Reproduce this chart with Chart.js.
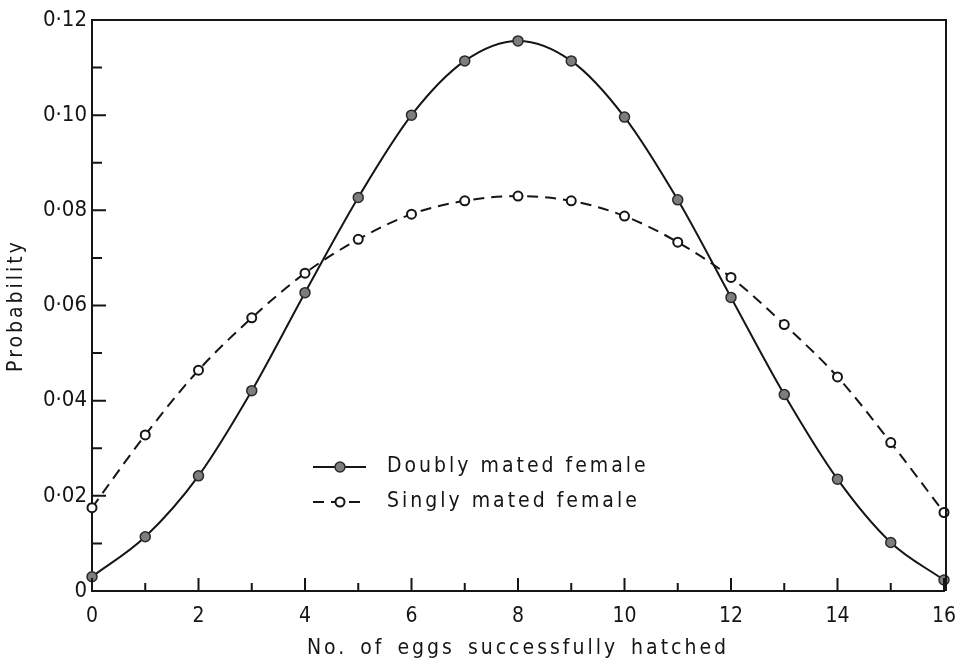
<!DOCTYPE html>
<html>
<head>
<meta charset="utf-8">
<script src="https://cdn.jsdelivr.net/npm/chart.js@4.4.1/dist/chart.umd.min.js"></script>
<style>
  html, body { margin: 0; background: #fff; }
  canvas { display: block; }
</style>
</head>
<body>
<canvas id="eggChart" width="956" height="664"></canvas>
<script>
// data
const eggs = [0, 1, 2, 3, 4, 5, 6, 7, 8, 9, 10, 11, 12, 13, 14, 15, 16];
const doublyMated = [0.0030, 0.0114, 0.0242, 0.0421, 0.0627, 0.0827, 0.1000, 0.1114, 0.1156,
                     0.1114, 0.0996, 0.0822, 0.0617, 0.0413, 0.0235, 0.0102, 0.0023];
const singlyMated = [0.0175, 0.0328, 0.0464, 0.0574, 0.0668, 0.0739, 0.0792, 0.0820, 0.0830,
                     0.0820, 0.0788, 0.0733, 0.0659, 0.0560, 0.0450, 0.0312, 0.0165];
const xTicks = [0, 2, 4, 6, 8, 10, 12, 14, 16];
const xMinorTicks = [1, 3, 5, 7, 9, 11, 13, 15];
const yTicks = [0, 0.02, 0.04, 0.06, 0.08, 0.10, 0.12];
const yMinorTicks = [0.01, 0.03, 0.05, 0.07, 0.09, 0.11];
const seriesLabels = ["Doubly mated female", "Singly mated female"];

const FONT = "'DejaVu Sans Condensed', 'DejaVu Sans', sans-serif";
const INK = "#151515";

const toPoints = (ys) => ys.map((y, i) => ({ x: eggs[i], y: y }));

// spaced-out lettering for the axis titles, like the typeset original
const spacedTitles = {
    id: "spacedTitles",
    beforeDraw(chart) {
        Object.values(chart.scales).forEach((scale) => {
            if (scale._spaced) return;
            const orig = scale.drawTitle.bind(scale);
            scale.drawTitle = function () {
                const ctx = this.ctx;
                ctx.save();
                ctx.letterSpacing = "3px";
                ctx.wordSpacing = "4px";
                orig();
                ctx.restore();
            };
            scale._spaced = true;
        });
    }
};

// inward tick marks + closed frame + legend inside the plot
const frameAndLegend = {
    id: "frameAndLegend",
    afterDraw(chart) {
        const ctx = chart.ctx;
        const { left, right, top, bottom } = chart.chartArea;
        const xs = chart.scales.x, ys = chart.scales.y;
        ctx.save();
        ctx.strokeStyle = INK;
        ctx.lineWidth = 2;
        ctx.beginPath();
        ctx.moveTo(left, top); ctx.lineTo(right + 2, top); ctx.lineTo(right + 2, bottom);
        ctx.stroke();

        ctx.beginPath();
        xTicks.forEach((v) => { const px = xs.getPixelForValue(v); ctx.moveTo(px, bottom); ctx.lineTo(px, bottom - 13); });
        xMinorTicks.forEach((v) => { const px = xs.getPixelForValue(v); ctx.moveTo(px, bottom); ctx.lineTo(px, bottom - 8); });
        yTicks.forEach((v) => { const py = ys.getPixelForValue(v); ctx.moveTo(left, py); ctx.lineTo(left + 14, py); });
        yMinorTicks.forEach((v) => { const py = ys.getPixelForValue(v); ctx.moveTo(left, py); ctx.lineTo(left + 10, py); });
        ctx.stroke();

        // legend
        const rows = [467, 502];
        chart.data.datasets.forEach((ds, i) => {
            const y = rows[i];
            ctx.strokeStyle = ds.borderColor;
            ctx.lineWidth = ds.borderWidth;
            ctx.setLineDash(ds.borderDash || []);
            ctx.beginPath();
            ctx.moveTo(313, y); ctx.lineTo(366, y);
            ctx.stroke();
            ctx.setLineDash([]);
            ctx.beginPath();
            ctx.arc(340, y, ds.pointRadius, 0, Math.PI * 2);
            ctx.fillStyle = ds.pointBackgroundColor;
            ctx.fill();
            ctx.lineWidth = ds.pointBorderWidth;
            ctx.strokeStyle = ds.pointBorderColor;
            ctx.stroke();

            ctx.fillStyle = INK;
            ctx.font = "21px " + FONT;
            ctx.letterSpacing = "3px";
            ctx.textBaseline = "middle";
            ctx.textAlign = "left";
            ctx.fillText(ds.label, 387, y);
            ctx.letterSpacing = "0px";
        });
        ctx.restore();
    }
};

new Chart(document.getElementById("eggChart").getContext("2d"), {
    type: "line",
    data: {
        datasets: [{
            label: seriesLabels[0],
            data: toPoints(doublyMated),
            borderColor: INK,
            borderWidth: 2,
            cubicInterpolationMode: "monotone",
            pointRadius: 5,
            pointBackgroundColor: "#7d7d7d",
            pointBorderColor: "#2a2a2a",
            pointBorderWidth: 1.5,
            clip: false,
        }, {
            label: seriesLabels[1],
            data: toPoints(singlyMated),
            borderColor: INK,
            borderWidth: 2,
            borderDash: [11, 7],
            cubicInterpolationMode: "monotone",
            pointRadius: 4.5,
            pointBackgroundColor: "#ffffff",
            pointBorderColor: INK,
            pointBorderWidth: 2,
            clip: false,
        }],
    },
    options: {
        responsive: false,
        animation: false,
        layout: { padding: { top: 20, right: 12, left: 0, bottom: 0 } },
        plugins: { legend: { display: false }, tooltip: { enabled: false } },
        scales: {
            x: {
                type: "linear",
                min: 0,
                max: 16,
                afterBuildTicks: (s) => { s.ticks = xTicks.map((v) => ({ value: v })); },
                afterFit: (s) => { s.height = 73; s.paddingLeft = 0; s.paddingRight = 0; },
                grid: { display: false, drawTicks: false },
                border: { display: true, color: INK, width: 2 },
                ticks: { padding: 13, color: INK, font: { size: 21, family: FONT } },
                title: {
                    display: true, text: "No. of eggs successfully hatched", color: INK,
                    font: { size: 21, family: FONT }, padding: { top: 0, bottom: 3 },
                },
            },
            y: {
                min: 0,
                max: 0.12,
                afterBuildTicks: (s) => { s.ticks = yTicks.map((v) => ({ value: v })); },
                afterFit: (s) => { s.width = 92; },
                grid: { display: false, drawTicks: false },
                border: { display: true, color: INK, width: 2 },
                ticks: {
                    padding: 5, color: INK, font: { size: 22, family: FONT },
                    callback: (v) => (v === 0 ? "0" : v.toFixed(2).replace(".", "\u00b7")),
                },
                title: {
                    display: true, text: "Probability", color: INK,
                    font: { size: 21, family: FONT }, padding: { top: 4, bottom: 0 },
                },
            },
        },
    },
    plugins: [spacedTitles, frameAndLegend],
});
</script>
</body>
</html>
